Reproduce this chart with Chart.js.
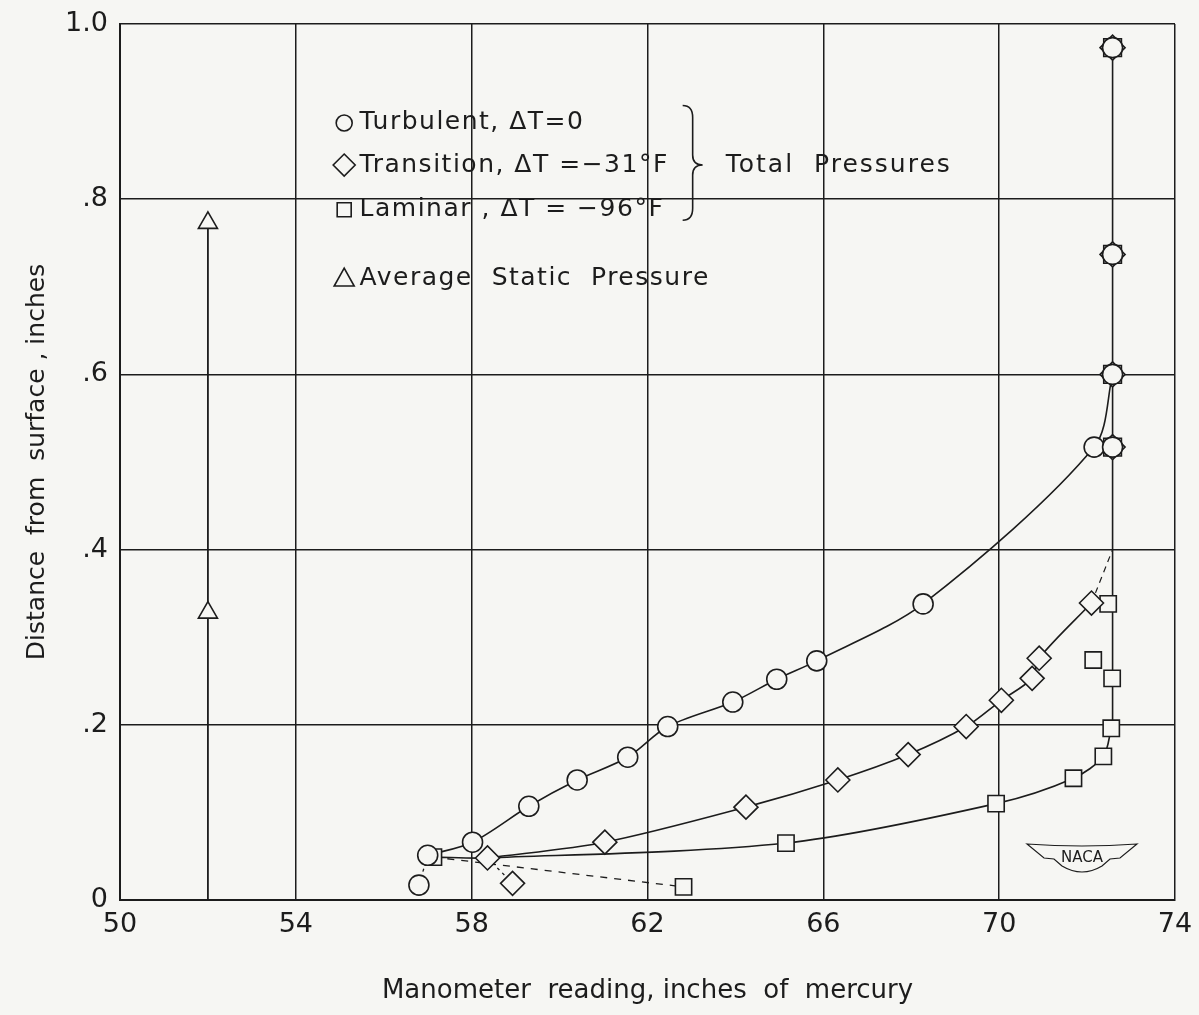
<!DOCTYPE html>
<html>
<head>
<meta charset="utf-8">
<script src="https://cdn.jsdelivr.net/npm/chart.js@4.4.0/dist/chart.umd.min.js"></script>
<style>
  html, body { margin: 0; padding: 0; background: #f6f6f3; }
  #wrap { width: 1199px; height: 1015px; }
</style>
</head>
<body>
<div id="wrap"><canvas id="chart" width="1199" height="1015"></canvas></div>
<script>
var ink = '#1c1c1c';
var paper = '#f6f6f3';
var face = '"DejaVu Sans", sans-serif';

// Turbulent, dT = 0 (circles)
var turbX = [56.8, 57.0, 58.02, 59.3, 60.4, 61.55, 62.46, 63.94, 64.94, 65.85, 68.27, 72.16];
var turbY = [0.017, 0.051, 0.066, 0.107, 0.137, 0.163, 0.198, 0.226, 0.252, 0.273, 0.338, 0.517];

// Transition, dT = -31F (diamonds)
var transX = [58.36, 58.93, 61.03, 64.24, 66.33, 67.93, 69.25, 70.05, 70.75, 70.91, 72.1];
var transY = [0.048, 0.019, 0.066, 0.106, 0.137, 0.166, 0.198, 0.228, 0.253, 0.276, 0.339];

// Laminar, dT = -96F (squares)
var lamX = [57.13, 62.82, 65.15, 69.93, 71.69, 72.37, 72.55, 72.57, 72.14, 72.48];
var lamY = [0.049, 0.015, 0.065, 0.11, 0.139, 0.164, 0.196, 0.253, 0.274, 0.338];

// free stream readings where all three profiles coincide
var freeX = [72.58, 72.58, 72.58, 72.58];
var freeY = [0.517, 0.6, 0.737, 0.973];

// average static pressure (triangles)
var staticX = [52, 52];
var staticY = [0.328, 0.773];

var xTicks = [50, 54, 58, 62, 66, 70, 74];
var yTicks = [0, 0.2, 0.4, 0.6, 0.8, 1.0];

function pts(xs, ys) {
    return xs.map(function (x, i) { return { x: x, y: ys[i] }; });
}
function pick(xs, ys, idx) {
    return idx.map(function (i) { return { x: xs[i], y: ys[i] }; });
}

// faired curves through the measured points
var turbCurve = pick(turbX, turbY, [1, 2, 3, 4, 5, 6, 7, 8, 9, 10, 11]).concat(pick(freeX, freeY, [1]));
var transCurve = pick(transX, transY, [0, 2, 3, 4, 5, 6, 7, 8, 9, 10]);
var lamCurve = pick(lamX, lamY, [0]).concat(pick(transX, transY, [0])).concat(pick(lamX, lamY, [2, 3, 4, 5, 6]));
var freeLine = [{ x: freeX[0], y: lamY[6] }, { x: freeX[3], y: freeY[3] }];
var staticLine = [{ x: staticX[0], y: 0 }, { x: staticX[1], y: staticY[1] }];
var transTail = [pick(transX, transY, [10])[0], { x: freeX[0], y: 0.4 }];
var dash1 = pick(turbX, turbY, [1, 0]);
var dash2 = pick(transX, transY, [0, 1]);
var dash3 = pick(lamX, lamY, [0, 1]);

function markers(data, style, r, order) {
    return {
        data: data, showLine: false, pointStyle: style, pointRadius: r,
        pointBackgroundColor: paper, pointBorderColor: ink, pointBorderWidth: 1.6, order: order
    };
}
function line(data, tension, dash, width) {
    return {
        data: data, showLine: true, pointRadius: 0, tension: tension,
        borderColor: ink, borderWidth: width || 1.6, borderDash: dash || [], order: 5
    };
}

var notes = {
    id: 'notes',
    afterDraw: function (chart) {
        var ctx = chart.ctx, xs = chart.scales.x, ys = chart.scales.y;
        var px = function (v) { return xs.getPixelForValue(v); };
        var py = function (v) { return ys.getPixelForValue(v); };
        ctx.save();
        ctx.fillStyle = ink;
        ctx.strokeStyle = ink;
        ctx.lineWidth = 1.6;
        ctx.font = '25px ' + face;
        ctx.letterSpacing = '1.5px';
        ctx.textBaseline = 'middle';

        var sx = px(55.1), tx = px(55.45);
        var rows = [
            ['circle', 'Turbulent, \u0394T=0', 0.887],
            ['diamond', 'Transition, \u0394T =\u221231\u00b0F', 0.839],
            ['square', 'Laminar , \u0394T = \u221296\u00b0F', 0.788],
            ['triangle', 'Average  Static  Pressure', 0.71]
        ];
        rows.forEach(function (r) {
            var y = py(r[2]);
            ctx.beginPath();
            if (r[0] === 'circle') ctx.arc(sx, y, 8, 0, Math.PI * 2);
            if (r[0] === 'diamond') { ctx.moveTo(sx, y - 11); ctx.lineTo(sx + 11, y); ctx.lineTo(sx, y + 11); ctx.lineTo(sx - 11, y); ctx.closePath(); }
            if (r[0] === 'square') ctx.rect(sx - 7, y - 7, 14, 14);
            if (r[0] === 'triangle') { ctx.moveTo(sx, y - 10); ctx.lineTo(sx + 10, y + 8); ctx.lineTo(sx - 10, y + 8); ctx.closePath(); }
            ctx.stroke();
            ctx.fillText(r[1], tx, y);
        });

        // brace
        var bx = px(62.8), top = py(0.907), mid = py(0.839), bot = py(0.776);
        ctx.beginPath();
        ctx.moveTo(bx, top);
        ctx.quadraticCurveTo(bx + 10, top, bx + 10, top + 12);
        ctx.lineTo(bx + 10, mid - 10);
        ctx.quadraticCurveTo(bx + 10, mid, bx + 20, mid);
        ctx.quadraticCurveTo(bx + 10, mid, bx + 10, mid + 10);
        ctx.lineTo(bx + 10, bot - 12);
        ctx.quadraticCurveTo(bx + 10, bot, bx, bot);
        ctx.stroke();
        ctx.letterSpacing = '2px';
        ctx.fillText('Total  Pressures', px(63.78), mid);

        // NACA wing badge
        var a = chart.chartArea, cx = a.right - 93, cy = a.bottom - 44;
        ctx.letterSpacing = '0px';
        ctx.lineWidth = 1.2;
        ctx.beginPath();
        ctx.moveTo(cx - 55, cy - 12);
        ctx.quadraticCurveTo(cx, cy - 8, cx + 55, cy - 12);
        ctx.lineTo(cx + 38, cy + 2);
        ctx.lineTo(cx + 28, cy + 3);
        ctx.lineTo(cx + 20, cy + 10);
        ctx.quadraticCurveTo(cx, cy + 22, cx - 20, cy + 10);
        ctx.lineTo(cx - 28, cy + 3);
        ctx.lineTo(cx - 38, cy + 2);
        ctx.closePath();
        ctx.stroke();
        ctx.font = '15px ' + face;
        ctx.textAlign = 'center';
        ctx.fillText('NACA', cx, cy + 2);
        ctx.restore();
    }
};

var chart = new Chart(document.getElementById('chart'), {
    type: 'scatter',
    data: {
        datasets: [
            markers(pts(freeX, freeY), 'rect', 12.5, 2),
            markers(pts(freeX, freeY), 'rectRot', 12.5, 1),
            markers(pts(freeX, freeY), 'circle', 10, 0),
            markers(pts(turbX, turbY), 'circle', 10, 0),
            markers(pts(transX, transY), 'rectRot', 12, 0),
            markers(pts(lamX, lamY), 'rect', 11.5, 0),
            markers(pts(staticX, staticY), 'triangle', 11, 0),
            line(turbCurve, 0.3),
            line(transCurve, 0.3),
            line(lamCurve, 0.3),
            line(freeLine, 0),
            line(staticLine, 0, [], 1.8),
            line(transTail, 0.2, [6, 5], 1.2),
            line(dash1, 0, [3, 4], 1.3),
            line(dash2, 0, [3, 4], 1.3),
            line(dash3, 0, [7, 7], 1.3)
        ]
    },
    options: {
        responsive: false,
        animation: false,
        layout: { padding: { left: 0, top: 24, right: 24, bottom: 0 } },
        plugins: { legend: { display: false }, tooltip: { enabled: false } },
        scales: {
            x: {
                type: 'linear', min: 50, max: 74,
                afterFit: function (s) { s.height = 115; s.paddingLeft = 0; s.paddingRight = 0; },
                afterBuildTicks: function (s) { s.ticks = xTicks.map(function (v) { return { value: v }; }); },
                grid: { color: ink, lineWidth: 1.5, drawTicks: false },
                border: { color: ink, width: 2 },
                ticks: { color: ink, padding: 9, font: { family: face, size: 27 } },
                title: { display: true, text: 'Manometer  reading, inches  of  mercury', color: ink, padding: { top: 0, bottom: 8 }, font: { family: face, size: 26 } }
            },
            y: {
                type: 'linear', min: 0, max: 1,
                afterFit: function (s) { s.width = 120; s.paddingTop = 0; s.paddingBottom = 0; },
                afterBuildTicks: function (s) { s.ticks = yTicks.map(function (v) { return { value: v }; }); },
                grid: { color: ink, lineWidth: 1.5, drawTicks: false },
                border: { color: ink, width: 2 },
                ticks: {
                    color: ink, padding: 12, font: { family: face, size: 27 },
                    callback: function (v) { return v === 0 ? '0' : v === 1 ? '1.0' : '.' + Math.round(v * 10); }
                },
                title: { display: true, text: 'Distance  from  surface , inches', color: ink, padding: { top: 22, bottom: 0 }, font: { family: face, size: 25 } }
            }
        }
    },
    plugins: [notes]
});
</script>
</body>
</html>
